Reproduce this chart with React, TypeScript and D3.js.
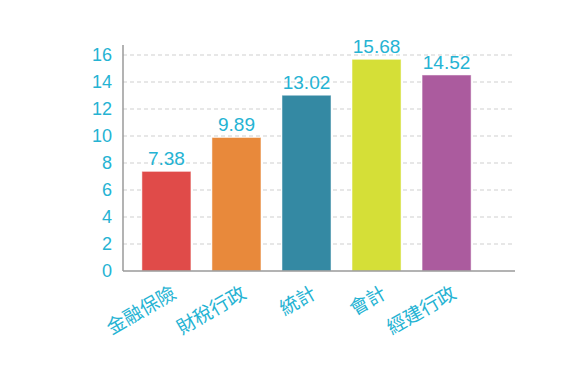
import React from "react";
import * as d3 from "d3";

const categories = ["金融保險", "財稅行政", "統計", "會計", "經建行政"];
const values = [7.38, 9.89, 13.02, 15.68, 14.52];
const barColors = ["#e04b49", "#e8893b", "#3489a3", "#d5df37", "#ab5b9e"];
const yTicks = [0, 2, 4, 6, 8, 10, 12, 14, 16];

const W = 583;
const H = 381;
const x0 = 123;
const y0 = 271;
const axisRight = 515;
const textColor = "#25b3d3";

export default function App() {
  const y = d3.scaleLinear().domain([0, 16]).range([y0, 55]);
  const x = d3
    .scaleBand<string>()
    .domain(categories)
    .range([x0, 490])
    .paddingInner(0.3)
    .paddingOuter(0.27);

  return (
    <svg
      width={W}
      height={H}
      style={{ position: "absolute", left: 0, top: 0 }}
      fontFamily="'Liberation Sans', Arial, sans-serif"
    >
      <rect width={W} height={H} fill="#fff" />
      {yTicks.map((t) => (
        <g key={t}>
          {t > 0 && (
            <line
              x1={x0}
              x2={axisRight}
              y1={y(t)}
              y2={y(t)}
              stroke="#cfcfcf"
              strokeWidth={1}
              strokeDasharray="4,3"
            />
          )}
          <text
            x={112}
            y={y(t)}
            dy="0.35em"
            textAnchor="end"
            fontSize={18}
            fill={textColor}
          >
            {t}
          </text>
        </g>
      ))}
      {categories.map((c, i) => {
        const bx = x(c)!;
        const bw = x.bandwidth();
        const by = y(values[i]);
        return (
          <g key={c}>
            <rect
              x={bx}
              y={by}
              width={bw}
              height={y0 - by}
              fill={barColors[i]}
              stroke="#ffffff"
              strokeOpacity={0.5}
              strokeWidth={1}
            />
            <text
              x={bx + bw / 2}
              y={by - 6}
              textAnchor="middle"
              fontSize={19}
              fill={textColor}
            >
              {values[i].toFixed(2)}
            </text>
            <text
              transform={`translate(${bx + bw / 2 + 11},${y0 + 26}) rotate(-30)`}
              textAnchor="end"
              fontSize={19}
              fill={textColor}
              fontFamily="'Noto Sans CJK TC', sans-serif"
            >
              {c}
            </text>
          </g>
        );
      })}
      <line x1={x0} x2={x0} y1={45} y2={y0} stroke="#9a9a9a" strokeWidth={1.5} />
      <line x1={x0} x2={axisRight} y1={y0} y2={y0} stroke="#9a9a9a" strokeWidth={1.5} />
    </svg>
  );
}
